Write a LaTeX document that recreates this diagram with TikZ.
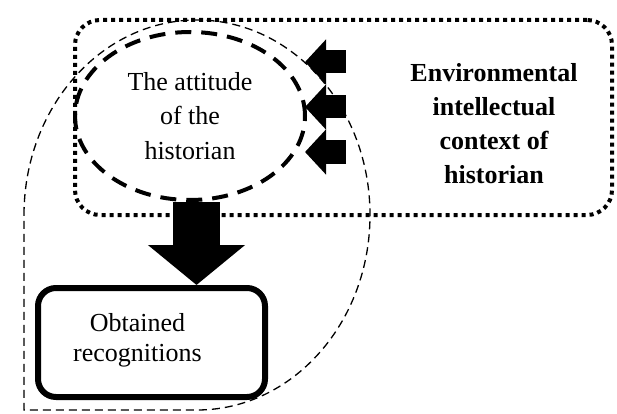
\documentclass[tikz,border=0pt]{standalone}
\usepackage{fontspec}
\setmainfont{Liberation Serif}
\usetikzlibrary{positioning,calc,arrows.meta,shapes.geometric}

\tikzset{
	ctxbox/.style={draw, line width=4pt, dash pattern=on 4pt off 4pt, rounded corners=25pt, minimum width=537pt, minimum height=195pt, inner sep=0pt},
	attitude/.style={ellipse, draw, line width=4pt, dash pattern=on 16pt off 10pt, minimum width=230pt, minimum height=168pt, inner sep=0pt, align=center},
	resultbox/.style={draw, line width=6pt, rounded corners=18pt, minimum width=227pt, minimum height=109pt},
	bigarrow/.style={line width=47pt, -{Triangle[length=40pt,width=95pt]}},
	smallarrow/.style={line width=23pt, -{Triangle[length=21pt,width=44pt]}},
	body/.style={font=\fontsize{26}{34.5}\selectfont, align=center, inner sep=0pt},
}

\begin{document}
\begin{tikzpicture}[x=1pt,y=-1pt]
		\useasboundingbox (0,0) rectangle (617,414);
		% thin outline round attitude and recognitions
		\draw[line width=1.3pt, dash pattern=on 8pt off 5pt] (24,215) arc[start angle=180, end angle=450, x radius=173, y radius=195] -- (24,410) -- cycle;
		\node[ctxbox] (ctx) at (343.5,117.5) {};
		\node[body, font=\fontsize{26}{34}\selectfont\bfseries] (ctxlabel) at (494,124) {Environmental\\intellectual\\context of\\historian};
		\node[attitude, body] (att) at (190,116) {The attitude\\of the\\historian};
		\node[resultbox] (obt) at (151.5,342.5) {};
		\node[body, font=\fontsize{26}{30}\selectfont] (obtlabel) at ($(obt.center)+(-14,-2)$) {Obtained\\recognitions};
		\coordinate (tip) at ($(obt.north)+(45,0)$);
		\draw[bigarrow] (tip |- att.south) -- (tip);
		\foreach \y [count=\i] in {62,107,152} {
			\coordinate (from\i) at (346,\y);
			\coordinate (to\i) at (305,\y);
			\draw[smallarrow] (from\i) -- (to\i);
		}
	\end{tikzpicture}
\end{document}
